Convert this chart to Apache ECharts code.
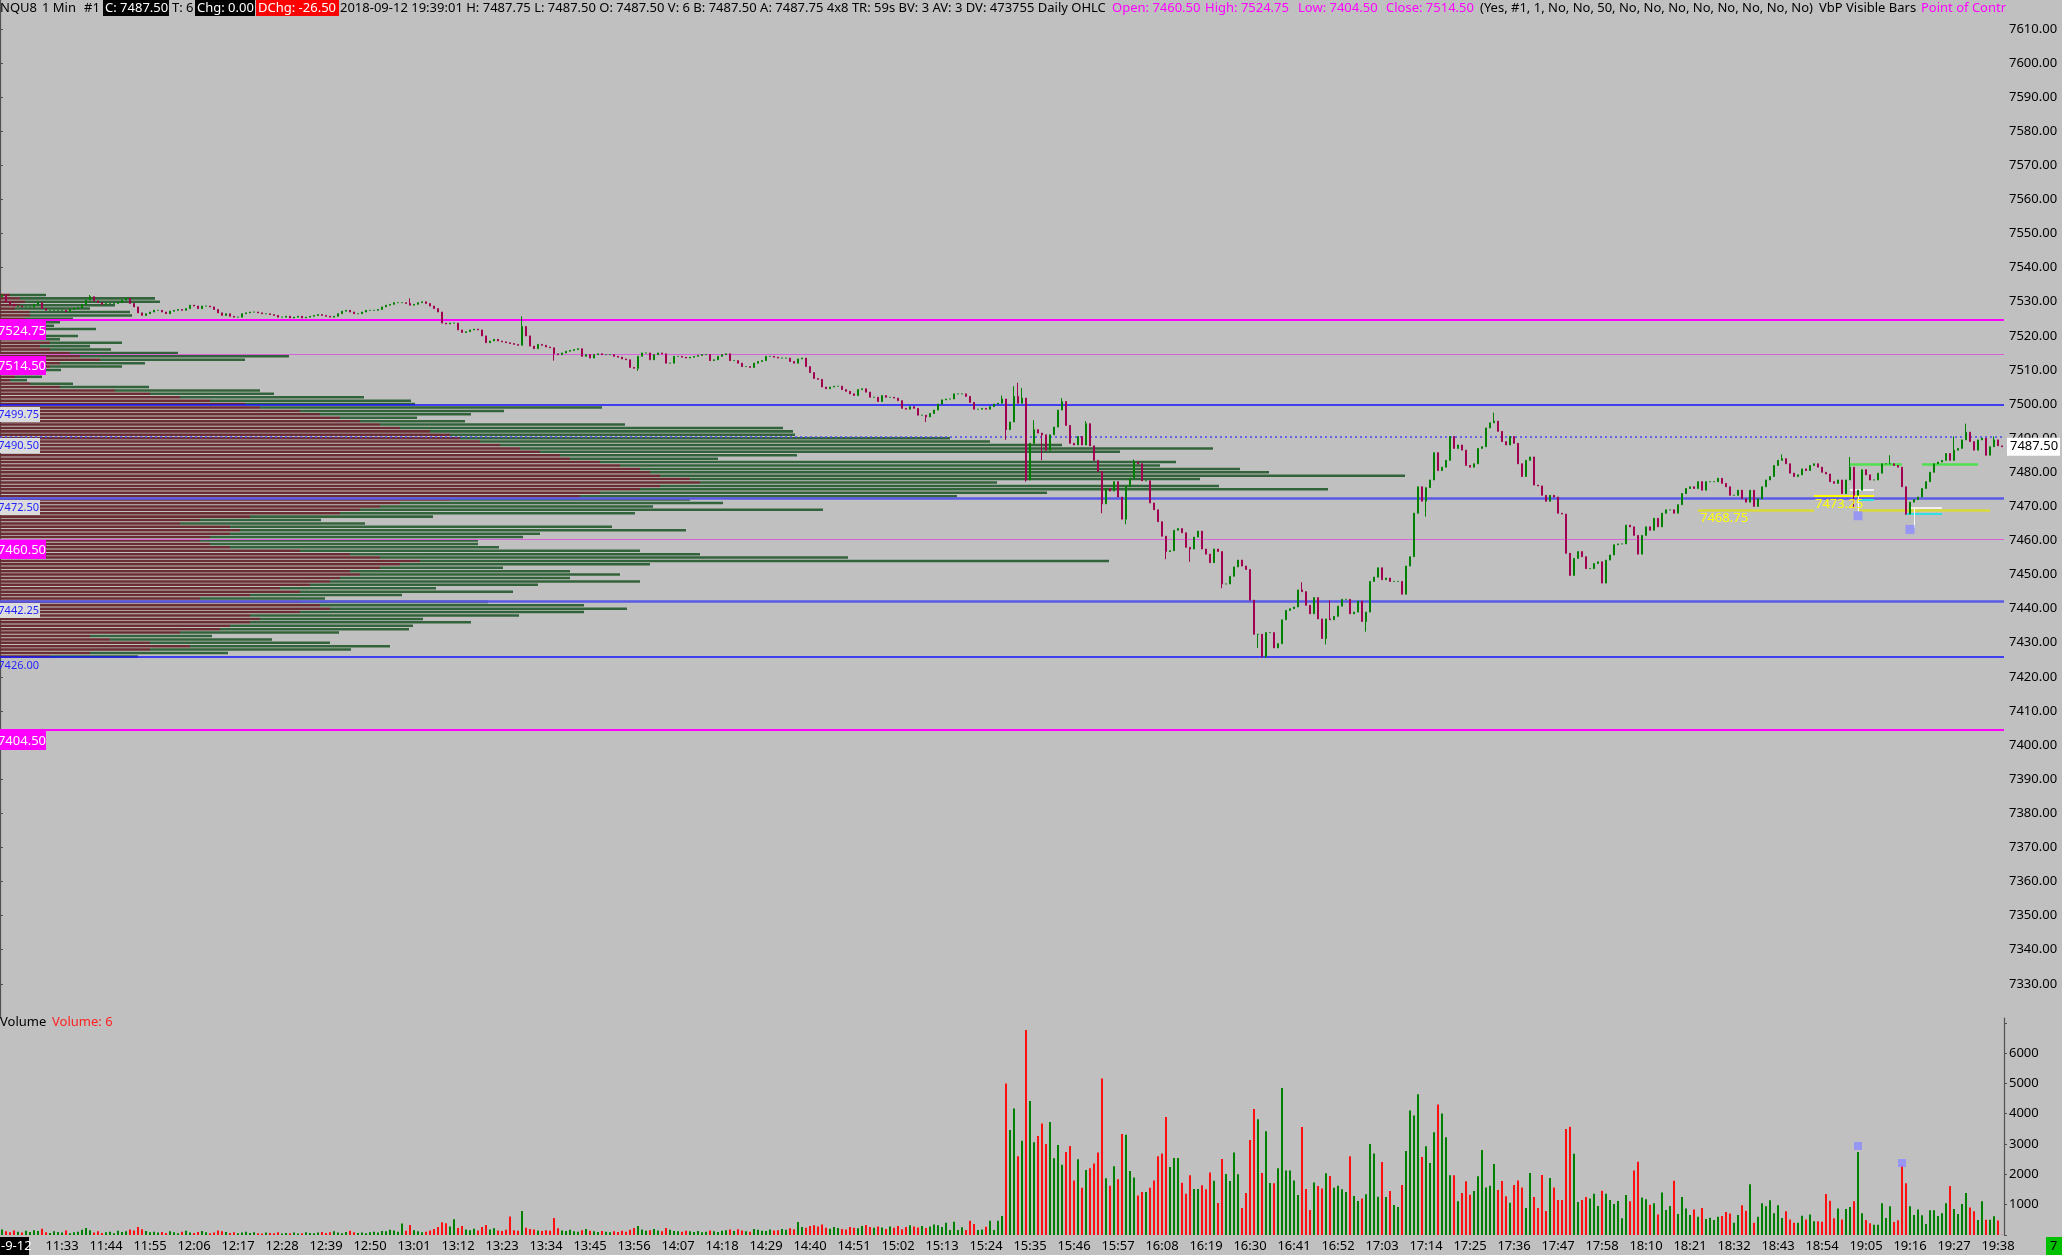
<!DOCTYPE html>
<html><head><meta charset="utf-8">
<script src="https://cdn.jsdelivr.net/npm/echarts@6/dist/echarts.min.js"></script>
<style>html,body{margin:0;padding:0;background:#C0C0C0;}#c{width:2062px;height:1255px;}</style>
</head><body><div id="c"></div>
<script>
// ---------- DATA ----------
const firstTime = '11:18';
const skippedMinute = '18:00';
const barCount = 501;
const firstOpen = 7531.5;
const closes = [
7532.0,7530.0,7529.25,7528.75,7528.75,7528.5,7528.5,7528.5,7529.25,7529.75,
7528.0,7527.5,7527.5,7527.5,7527.5,7527.5,7527.0,7527.75,7528.0,7528.25,
7529.25,7530.5,7531.5,7530.25,7529.75,7529.25,7529.5,7529.5,7529.5,7529.75,
7530.5,7531.0,7529.5,7528.5,7526.75,7526.0,7526.5,7527.0,7527.5,7527.5,
7527.0,7526.5,7527.25,7527.5,7527.75,7527.5,7528.0,7529.0,7528.75,7528.0,
7528.75,7528.75,7528.5,7527.75,7526.75,7526.0,7526.5,7525.75,7525.5,7525.5,
7526.5,7526.75,7527.0,7527.0,7526.75,7526.5,7526.5,7526.25,7526.0,7525.5,
7525.5,7525.75,7525.25,7525.5,7525.75,7525.25,7525.5,7525.75,7526.0,7526.25,
7526.0,7525.75,7525.5,7525.75,7526.5,7527.25,7527.5,7527.0,7526.5,7526.5,
7527.0,7527.5,7527.5,7527.5,7527.75,7528.5,7529.0,7529.25,7529.75,7529.75,
7529.75,7529.5,7529.0,7529.25,7529.75,7530.0,7529.5,7528.75,7528.0,7527.0,
7523.75,7523.5,7523.75,7523.75,7521.75,7521.0,7521.25,7521.75,7522.0,7521.75,
7520.0,7518.0,7518.5,7519.0,7518.5,7518.25,7518.0,7517.75,7517.5,7517.25,
7522.75,7520.0,7517.0,7516.25,7517.5,7517.25,7516.75,7516.5,7514.75,7514.5,
7515.0,7515.5,7515.75,7516.0,7516.25,7514.0,7514.5,7513.5,7514.5,7514.75,
7514.5,7514.5,7514.5,7514.0,7513.75,7513.25,7513.0,7510.75,7510.5,7514.0,
7515.0,7515.0,7513.0,7514.5,7515.0,7514.75,7512.0,7512.0,7514.0,7514.0,
7513.75,7513.5,7513.75,7514.0,7514.25,7514.5,7514.5,7512.75,7513.0,7514.0,
7514.5,7514.75,7512.75,7512.75,7512.0,7511.0,7511.0,7510.75,7512.0,7512.5,
7512.75,7514.0,7514.0,7513.75,7513.5,7513.5,7513.5,7512.5,7512.0,7513.25,
7513.5,7511.0,7509.25,7507.5,7507.25,7505.0,7504.5,7505.0,7505.25,7505.25,
7504.25,7503.75,7503.0,7502.5,7504.25,7504.5,7503.5,7502.0,7502.0,7500.75,
7502.5,7502.0,7502.0,7501.75,7501.0,7498.75,7498.5,7499.25,7498.75,7496.75,
7496.75,7496.25,7497.25,7498.25,7500.0,7501.25,7501.5,7501.5,7503.0,7503.0,
7503.0,7502.25,7500.5,7498.5,7498.5,7498.75,7498.5,7499.25,7500.0,7500.25,
7501.5,7492.5,7494.75,7502.25,7500.25,7501.75,7477.75,7488.5,7492.5,7491.5,
7491.0,7486.5,7491.0,7493.25,7498.25,7500.75,7493.75,7488.5,7488.0,7490.5,
7488.0,7494.25,7487.75,7483.5,7480.25,7470.75,7475.25,7474.5,7477.25,7472.75,
7466.25,7475.75,7478.25,7483.0,7482.5,7477.5,7477.5,7471.0,7469.0,7465.5,
7461.25,7456.75,7457.0,7463.0,7463.5,7462.25,7458.0,7457.5,7461.0,7462.75,
7457.5,7456.0,7453.5,7457.5,7456.75,7447.25,7447.25,7449.5,7452.25,7454.25,
7452.5,7451.5,7442.5,7432.5,7432.5,7426.0,7433.0,7433.0,7428.5,7429.75,
7436.75,7439.5,7440.0,7440.5,7445.5,7445.0,7441.0,7438.5,7443.25,7437.0,
7431.25,7437.0,7436.75,7437.75,7440.75,7442.75,7442.75,7438.5,7439.0,7442.25,
7436.25,7439.0,7448.0,7449.25,7452.0,7448.5,7449.0,7448.0,7448.0,7448.0,
7444.25,7452.5,7455.25,7468.0,7475.75,7471.5,7475.5,7477.75,7485.75,7480.5,
7481.5,7483.5,7490.5,7487.0,7488.0,7486.5,7482.0,7481.5,7482.5,7487.0,
7487.5,7493.0,7494.5,7495.0,7492.0,7489.0,7488.0,7490.5,7488.5,7482.5,
7478.75,7483.5,7484.5,7476.25,7476.0,7473.25,7471.5,7473.25,7472.75,7468.0,
7467.75,7456.25,7449.75,7454.75,7456.75,7455.25,7451.75,7451.75,7453.25,7453.75,
7447.5,7454.25,7455.75,7458.75,7459.0,7459.0,7464.5,7464.0,7461.5,7456.0,
7461.5,7464.0,7463.0,7466.5,7464.0,7468.0,7469.0,7469.0,7468.0,7470.5,
7473.75,7475.25,7475.75,7475.25,7477.25,7474.75,7477.25,7477.25,7477.25,7478.25,
7476.75,7475.75,7473.25,7473.25,7474.75,7472.25,7471.25,7474.75,7470.0,7472.25,
7475.75,7477.75,7478.75,7482.0,7483.5,7484.0,7482.5,7479.75,7478.75,7479.25,
7481.0,7480.5,7482.0,7482.5,7481.5,7480.0,7479.5,7477.25,7476.75,7477.75,
7473.75,7477.75,7481.5,7473.25,7474.75,7480.75,7479.25,7477.75,7477.75,7479.75,
7482.5,7482.5,7482.5,7482.0,7481.5,7475.75,7467.75,7471.25,7472.0,7472.75,
7475.25,7477.25,7480.0,7482.5,7483.0,7483.5,7485.5,7483.5,7486.5,7487.0,
7489.5,7491.75,7489.0,7486.5,7489.5,7490.0,7485.0,7487.5,7489.5,7487.75,7487.5
];
// [bar index, high, low] for bars whose wicks reach beyond the body
const wicks = [
[22,7532.0,null],[102,7531.0,null],[130,7525.75,null],[138,null,7512.75],[159,null,7509.75],
[231,null,7494.75],[250,7502.5,null],[251,null,7489.5],[253,7505.25,null],[254,7506.25,null],
[255,7504.75,null],[256,null,7477.25],[258,7495.25,null],[260,null,7483.5],[265,7501.75,null],
[271,7495.0,null],[275,null,7468.0],[281,null,7464.75],[283,7483.75,null],[291,null,7454.5],
[297,null,7453.75],[305,null,7446.0],[314,null,7428.5],[315,null,7425.75],[316,null,7425.5],
[325,7447.75,null],[331,null,7429.5],[332,7442.5,null],[341,null,7433.25],[356,null,7467.0],
[373,7497.5,null],[445,7485.25,null],[462,7484.5,null],[463,null,7469.5],[472,7485.0,null],
[476,null,7467.5],[488,7490.5,null],[491,7494.25,null],[498,7490.5,null]
];
const volumes = [
180,120,90,150,110,80,140,100,160,130,
210,90,70,120,100,80,150,60,90,110,
170,230,160,80,120,70,90,110,60,140,
100,120,180,150,260,190,130,90,110,80,
100,70,120,90,60,110,140,80,70,100,
130,90,60,80,150,120,100,70,90,60,
80,110,70,90,60,50,80,70,60,90,
50,70,60,80,50,60,90,70,60,80,
100,70,90,120,80,60,100,140,90,70,
80,60,90,110,80,130,120,170,150,110,
380,140,330,160,120,90,110,150,200,260,
420,390,280,520,230,300,180,160,210,150,
260,330,180,220,150,130,170,610,160,140,
790,240,200,180,150,130,160,140,560,220,
150,130,170,120,110,160,200,140,120,100,
130,110,90,120,100,140,110,170,230,300,
180,140,160,200,150,120,230,170,130,120,
110,140,120,100,130,90,110,150,120,100,
140,160,180,130,190,150,120,110,200,170,
140,130,180,150,160,200,170,220,190,430,
260,240,300,320,280,350,240,210,260,230,
200,180,260,240,220,300,330,260,240,280,
250,200,280,240,300,190,260,320,280,250,
300,230,280,350,320,260,400,
165,440,165,255,165,470,360,165,185,275,
470,165,470,625,5000,3460,4175,2600,3110,6760,
4420,3055,3265,3680,3000,3725,2530,2970,2320,2735,
2935,1800,2495,1560,2140,2200,2360,2725,5165,1870,
1625,2265,1835,3330,3310,2110,1900,1300,1420,1420,
1560,1800,2600,2690,3890,2240,2540,2540,1725,1360,
1970,1515,1515,1640,1505,2065,1790,1055,2505,2010,
1780,2725,2000,890,1385,3130,4155,3815,2045,3420,
1715,1705,2200,4845,2130,2130,1800,1320,3560,1515,
825,1735,1615,1530,2035,1945,1560,1625,1505,1420,
2600,1285,1120,1200,1340,3000,2690,1265,2405,1255,
1450,990,925,1650,2770,4110,3945,4640,2570,2925,
2375,3385,4300,4010,3220,1970,1970,1110,1385,1770,
1330,1450,1935,2800,1570,1625,2340,1485,1780,1275,
1065,1650,1800,1570,890,2045,1255,890,1980,790,
1880,1570,1155,1155,3495,3570,2680,1090,1155,1255,
1200,1360,955,1460,1360,1155,1020,1120,550,1320,
1110,2130,2420,1240,1175,1000,1045,680,1405,825,
955,1790,690,1255,870,660,845,605,890,530,
570,495,605,625,760,705,405,660,980,800,
1670,405,605,1045,945,1145,715,980,560,780,
515,405,405,635,515,680,450,450,440,1350,
1130,550,870,515,855,925,1110,2735,715,495,
385,340,340,1045,560,945,430,485,2310,1705,
945,660,845,650,365,815,815,625,715,1045,
1615,855,690,1020,1385,910,780,495,1110,505,
505,615,480,6
];
// Volume-by-price rows (visible bars profile)
const profPrices = [7532,7531,7530,7529,7528,7527,7526,7525,7524,7523,7522,7521,7520,7519,7518,7517,7516,7515,7514,7513,
7512,7511,7510,7509,7508,7507,7506,7505,7504,7503,7502,7501,7500,7499,7498,7497,7496,7495,7494,7493,
7492,7491,7490,7489,7488,7487,7486,7485,7484,7483,7482,7481,7480,7479,7478,7477,7476,7475,7474,7473,
7472,7471,7470,7469,7468,7467,7466,7465,7464,7463,7462,7461,7460,7459,7458,7457,7456,7455,7454,7453,
7452,7451,7450,7449,7448,7447,7446,7445,7444,7443,7442,7441,7440,7439,7438,7437,7436,7435,7434,7433,
7432,7431,7430,7429,7428,7427,7426];
const profTotal = [46,155,160,115,90,130,132,73,60,54,96,42,78,60,122,90,111,178,289,245,
145,122,61,17,42,27,73,149,260,274,364,411,415,602,504,471,417,465,625,783,
793,795,950,990,1062,1213,1120,797,718,1176,1160,1240,1269,1405,1200,997,1219,1328,1047,957,
690,723,653,823,635,433,321,365,612,686,540,523,478,478,499,640,700,848,1109,650,
503,570,620,570,640,538,436,513,402,325,488,584,627,584,519,423,471,413,409,339,
212,272,330,390,351,228,138];
const profSell = [10,20,25,20,15,30,30,25,27,20,40,15,35,30,50,40,50,70,80,100,
60,50,20,10,15,10,30,60,115,150,180,210,245,260,300,320,340,360,380,400,
430,450,460,480,500,520,540,560,570,600,620,640,650,660,690,700,660,640,600,580,
450,400,380,360,340,250,200,180,230,240,230,210,200,210,230,300,350,380,420,400,
380,350,360,340,330,310,280,300,250,200,300,320,330,300,250,260,250,230,220,180,
90,110,150,190,150,90,50];
// Key price levels drawn across the chart
const levelPrices = [7524.75, 7514.50, 7499.75, 7490.50, 7472.50, 7460.50, 7442.25, 7426.00, 7404.50];
const lastPrice = 7487.50;
// Drawing-tool marks: [from bar, to bar, price]
const yellowLevelLow = [[424,453,7468.75],[464,497,7468.75]];
const yellowLevelHigh = [[453,468,7473.25]];
const whiteMarks = [[462,468,7474.75],[477,485,7469.5]];
const cyanMarks = [[464,468,7472.0],[476,485,7467.75]];
const greenMarks = [[462,475,7482.25],[480,494,7482.25]];
const stemMarks = [[464,7473.25,7468.25],[478,7469.5,7463.75]];
const priceSquares = [[464,7467.25],[477,7463.25]];
const volumeSquares = [[464,2935],[475,2375]];
const priceTicks = {min:7320, max:7618.5, step:10};
const volTicks = {min:0, max:7157, step:1000, firstLabel:1000, lastLabel:6000};

// ---------- BUILD ----------
function buildTimes(){
  const out=[]; let h=+firstTime.slice(0,2), m=+firstTime.slice(3);
  while(out.length<barCount){
    const s=String(h).padStart(2,'0')+':'+String(m).padStart(2,'0');
    if(s!==skippedMinute) out.push(s);
    m++; if(m===60){m=0;h++;}
  }
  return out;
}
const times = buildTimes();
const wickMap = {}; wicks.forEach(w=>wickMap[w[0]]=w);
const ohlc = closes.map((c,i)=>{
  const o = i===0 ? firstOpen : closes[i-1];
  let hi=Math.max(o,c), lo=Math.min(o,c);
  const w=wickMap[i];
  if(w){ if(w[1]!=null) hi=Math.max(hi,w[1]); if(w[2]!=null) lo=Math.min(lo,w[2]); }
  return [o,c,lo,hi];
});
const UP='#008000', DOWN='#A0004E';
const volData = volumes.map((v,i)=>{
  const o=ohlc[i][0], c=ohlc[i][1];
  return {value:v, itemStyle:{color: c>=o ? UP : '#FF1010'}};
});
const profData = profPrices.map((p,k)=>[p, profSell[k], profTotal[k]]);

const MAG='#FF00FF', PINK='#D860D8', BLUE='#1414FF', LBLUE='#5A5AE6';
const levelLine = [
  {color:MAG,width:2,type:'solid'},{color:PINK,width:1,type:'solid'},{color:BLUE,width:1.5,type:'solid'},
  {color:'#4848F0',width:1.5,type:[2,3]},{color:LBLUE,width:2.5,type:'solid'},{color:PINK,width:1,type:'solid'},
  {color:LBLUE,width:2.5,type:'solid'},{color:BLUE,width:1.5,type:'solid'},{color:MAG,width:2,type:'solid'}
];
const markData = [];
levelPrices.forEach((p,k)=>markData.push({yAxis:p, lineStyle:levelLine[k]}));
function seg(list, style){ list.forEach(s=>markData.push([{coord:[s[0],s[2]],lineStyle:style},{coord:[s[1],s[2]]}])); }
seg(yellowLevelLow,{color:'#DADA3A',width:2.5,type:'solid'});
seg(yellowLevelHigh,{color:'#FFFF00',width:2,type:'solid'});
seg(whiteMarks,{color:'#FFFFFF',width:1.5,type:'solid'});
seg(cyanMarks,{color:'#30E0E0',width:2,type:'solid'});
seg(greenMarks,{color:'#50E050',width:2.5,type:'solid'});
stemMarks.forEach(s=>markData.push([{coord:[s[0],s[1]],lineStyle:{color:'#FFFFFF',width:1,type:'solid'}},{coord:[s[0],s[2]]}]));

const chart = echarts.init(document.getElementById('c'), null, {renderer:'canvas'});
const FONT='Noto Sans';
const option = {
  animation:false,
  backgroundColor:'#C0C0C0',
  textStyle:{fontFamily:FONT},
  grid:[{left:0,right:58,top:0,height:1017.9},{left:0,right:58,top:1018,height:217}],
  xAxis:[
    {type:'category',gridIndex:0,data:times,boundaryGap:true,axisLine:{show:false},axisTick:{show:false},axisLabel:{show:false},splitLine:{show:false}},
    {type:'value',gridIndex:0,min:0,max:2004,show:false},
    {type:'category',gridIndex:1,data:times,boundaryGap:true,axisLine:{show:false},axisTick:{show:false},splitLine:{show:false},
     axisLabel:{interval:(i)=>i>=15 && (i-15)%11===0, color:'#000', fontSize:13, fontFamily:FONT, margin:5}}
  ],
  yAxis:[
    {type:'value',gridIndex:0,position:'right',min:priceTicks.min,max:priceTicks.max,interval:priceTicks.step,
     axisLine:{show:true,lineStyle:{color:'#505050',width:1.2}},axisTick:{show:true,length:3,lineStyle:{color:'#505050'}},
     axisLabel:{color:'#000',fontSize:13,fontFamily:FONT,margin:5,showMinLabel:false,showMaxLabel:false,formatter:v=>v.toFixed(2)},splitLine:{show:false}},
    {type:'value',gridIndex:1,position:'right',min:volTicks.min,max:volTicks.max,interval:volTicks.step,
     axisLine:{show:true,lineStyle:{color:'#505050',width:1.2}},axisTick:{show:true,length:3,lineStyle:{color:'#505050'}},
     axisLabel:{color:'#000',fontSize:13,fontFamily:FONT,margin:5,showMaxLabel:false,
       formatter:v=>(v>=volTicks.firstLabel && v<=volTicks.lastLabel)?String(v):''},splitLine:{show:false}}
  ],
  series:[
    {type:'custom',name:'VbP',xAxisIndex:1,yAxisIndex:0,z:1,silent:true,data:profData,encode:{x:[1,2],y:0},
     renderItem:(params,api)=>{
       const p=api.value(0), s=api.value(1), t=api.value(2);
       const a=api.coord([0,p+0.5]), b=api.coord([s,p-0.5]), c=api.coord([t,p]);
       const y0=a[1], h=b[1]-a[1];
       return {type:'group',children:[
         {type:'rect',shape:{x:a[0],y:y0+0.45,width:b[0]-a[0],height:h-0.9},style:{fill:'#6A2D31'}},
         {type:'rect',shape:{x:b[0],y:y0+0.45,width:c[0]-b[0],height:h-0.9},style:{fill:'#33633A'}}
       ]};
     }},
    {type:'candlestick',name:'NQU8',xAxisIndex:0,yAxisIndex:0,z:5,data:ohlc,barWidth:2.4,silent:true,
     itemStyle:{color:UP,color0:DOWN,borderColor:UP,borderColor0:DOWN,borderWidth:1},
     markLine:{silent:true,symbol:['none','none'],label:{show:false},animation:false,z:4,data:markData}},
    {type:'scatter',xAxisIndex:0,yAxisIndex:0,z:6,symbol:'rect',symbolSize:9,data:priceSquares,itemStyle:{color:'#8C8CFF'},silent:true},
    {type:'bar',name:'Volume',xAxisIndex:2,yAxisIndex:1,barWidth:2,data:volData,silent:true},
    {type:'scatter',xAxisIndex:2,yAxisIndex:1,z:6,symbol:'rect',symbolSize:8,data:volumeSquares,itemStyle:{color:'#8C8CFF'},silent:true}
  ]
};
chart.setOption(option);

// ---------- overlay texts ----------
const g=[];
function txt(x,y,t,fill,font,align){ g.push({type:'text',x:x,y:y,z:100,style:{text:t,fill:fill,font:font,textAlign:align||'left',align:align||'left',textVerticalAlign:'middle',verticalAlign:'middle'}}); }
function box(x,y,w,h,fill){ g.push({type:'rect',z:99,shape:{x:x,y:y,width:w,height:h},style:{fill:fill}}); }
const F11='11px "Noto Sans"', F12='12px "Noto Sans"', F13='13px "Noto Sans"';
// header
txt(0,8,'NQU8','#000',F13); txt(42,8,'1 Min','#000',F13); txt(84,8,'#1','#000',F13);
box(103,0,66,16,'#000'); txt(105,8,'C: 7487.50','#fff',F13);
txt(172,8,'T: 6','#000',F13);
box(195,0,60,16,'#000'); txt(197,8,'Chg: 0.00','#fff',F13);
box(256,0,83,16,'#FF0000'); txt(258,8,'DChg: -26.50','#fff',F13);
txt(340,8,'2018-09-12 19:39:01 H: 7487.75 L: 7487.50 O: 7487.50 V: 6 B: 7487.50 A: 7487.75 4x8 TR: 59s BV: 3 AV: 3 DV: 473755 Daily OHLC','#000',F13);
txt(1112,8,'Open: 7460.50',MAG,F13); txt(1205,8,'High: 7524.75',MAG,F13);
txt(1298,8,'Low: 7404.50',MAG,F13); txt(1386,8,'Close: 7514.50',MAG,F13);
txt(1480,8,'(Yes, #1, 1, No, No, 50, No, No, No, No, No, No, No, No)','#000',F13);
txt(1819,8,'VbP Visible Bars','#000',F13); txt(1921,8,'Point of Control',MAG,F13);
g.push({type:'rect',z:101,shape:{x:2006,y:0,width:56,height:17},style:{fill:'#C0C0C0'}});
// level labels on the left
const labelKind=['mag','mag','light','light','light','mag','light','plain','mag'];
levelPrices.forEach((p,k)=>{
  const y=Math.round(chart.convertToPixel({yAxisIndex:0},p));
  const kind=labelKind[k];
  if(kind==='mag'){ box(0,y+1,46,19,MAG); txt(46,y+11,p.toFixed(2),'#fff',F13,'right'); }
  else if(kind==='light'){ box(0,y+2,40,15,'#DCDCDC'); txt(39,y+9.5,p.toFixed(2),'#2424FF',F11,'right'); }
  else { txt(39,y+9.5,p.toFixed(2),'#2424FF',F11,'right'); }
});
// yellow level texts
const ylow=chart.convertToPixel({xAxisIndex:0,yAxisIndex:0},[yellowLevelLow[0][0],yellowLevelLow[0][2]]);
txt(ylow[0]+2,ylow[1]+8,yellowLevelLow[0][2].toFixed(2),'#FFFF00',F13);
const yhi=chart.convertToPixel({xAxisIndex:0,yAxisIndex:0},[yellowLevelHigh[0][0],yellowLevelHigh[0][2]]);
txt(yhi[0]+1,yhi[1]+9,yellowLevelHigh[0][2].toFixed(2),'#FFFF00',F13);
// last price box
const ly=chart.convertToPixel({yAxisIndex:0},lastPrice);
box(2007,ly-9,53,18,'#FFFFFF'); txt(2010,ly,lastPrice.toFixed(2),'#000',F13);
// volume pane title
txt(0,1022,'Volume','#000',F13); txt(52,1022,'Volume: '+volumes[volumes.length-1],'#FF2020',F13);
// date box and bottom-right box
box(0,1237,29,18,'#000'); txt(1,1246,'-9-12','#fff',F13);
box(2046,1237,16,18,'#00C000'); txt(2050,1246,'7','#000',F13);
chart.setOption({graphic:g});
</script></body></html>
